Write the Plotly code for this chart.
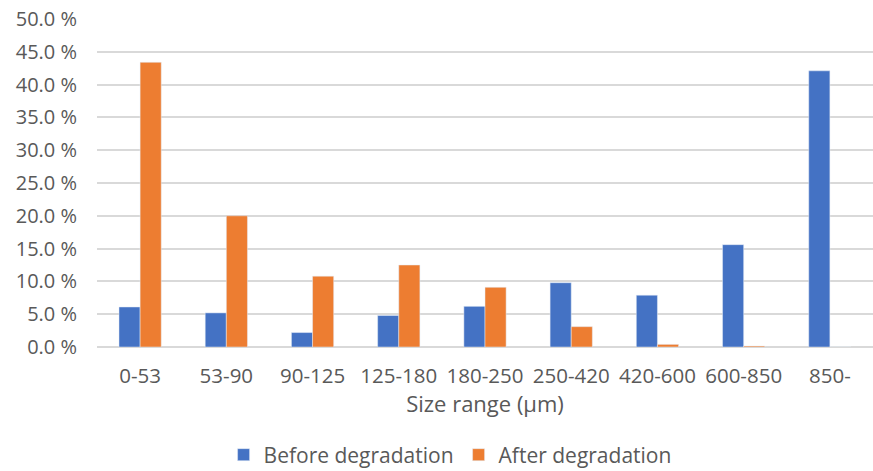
import plotly.graph_objects as go

categories = ["0-53", "53-90", "90-125", "125-180", "180-250", "250-420", "420-600", "600-850", "850-"]
before = [6.1, 5.2, 2.2, 4.8, 6.2, 9.8, 7.9, 15.6, 42.1]
after = [43.4, 20.0, 10.8, 12.5, 9.1, 3.1, 0.4, 0.15, 0.0]
y_ticks = [0, 5, 10, 15, 20, 25, 30, 35, 40, 45, 50]
y_tick_labels = [f"{v:.1f} %" for v in y_ticks]

font_family = "Open Sans, Liberation Sans, sans-serif"
gray = "#595959"

fig = go.Figure()
fig.add_trace(go.Bar(x=categories, y=before, name="Before degradation", marker_color="#4472C4"))
fig.add_trace(go.Bar(x=categories, y=after, name="After degradation", marker_color="#ED7D31"))

fig.update_layout(
    width=873, height=471,
    margin=dict(l=97, r=0, t=19, b=124, autoexpand=False),
    plot_bgcolor="white", paper_bgcolor="white",
    barmode="group", bargap=0.51, bargroupgap=0,
    font=dict(family=font_family, color=gray, size=20),
    xaxis=dict(
        title=dict(text="Size range (µm)", font=dict(size=22, color=gray), standoff=6),
        tickfont=dict(size=20.5, color=gray), showgrid=False, ticks="",
        showline=False, ticklabelstandoff=14, automargin=False,
    ),
    yaxis=dict(
        range=[0, 50], tickvals=y_ticks, ticktext=y_tick_labels,
        showgrid=True, gridcolor="#d9d9d9", gridwidth=1.5,
        zeroline=True, zerolinecolor="#d9d9d9", zerolinewidth=1.5,
        tickfont=dict(size=20, color=gray), ticks="", ticklabelstandoff=19,
        automargin=False,
    ),
    legend=dict(orientation="h", x=0.455, xanchor="center", yref="container",
                y=1 - 455 / 471, yanchor="middle",
                font=dict(size=21, color=gray), itemwidth=30, traceorder="normal"),
    showlegend=True,
)

fig.write_html("out.html")
